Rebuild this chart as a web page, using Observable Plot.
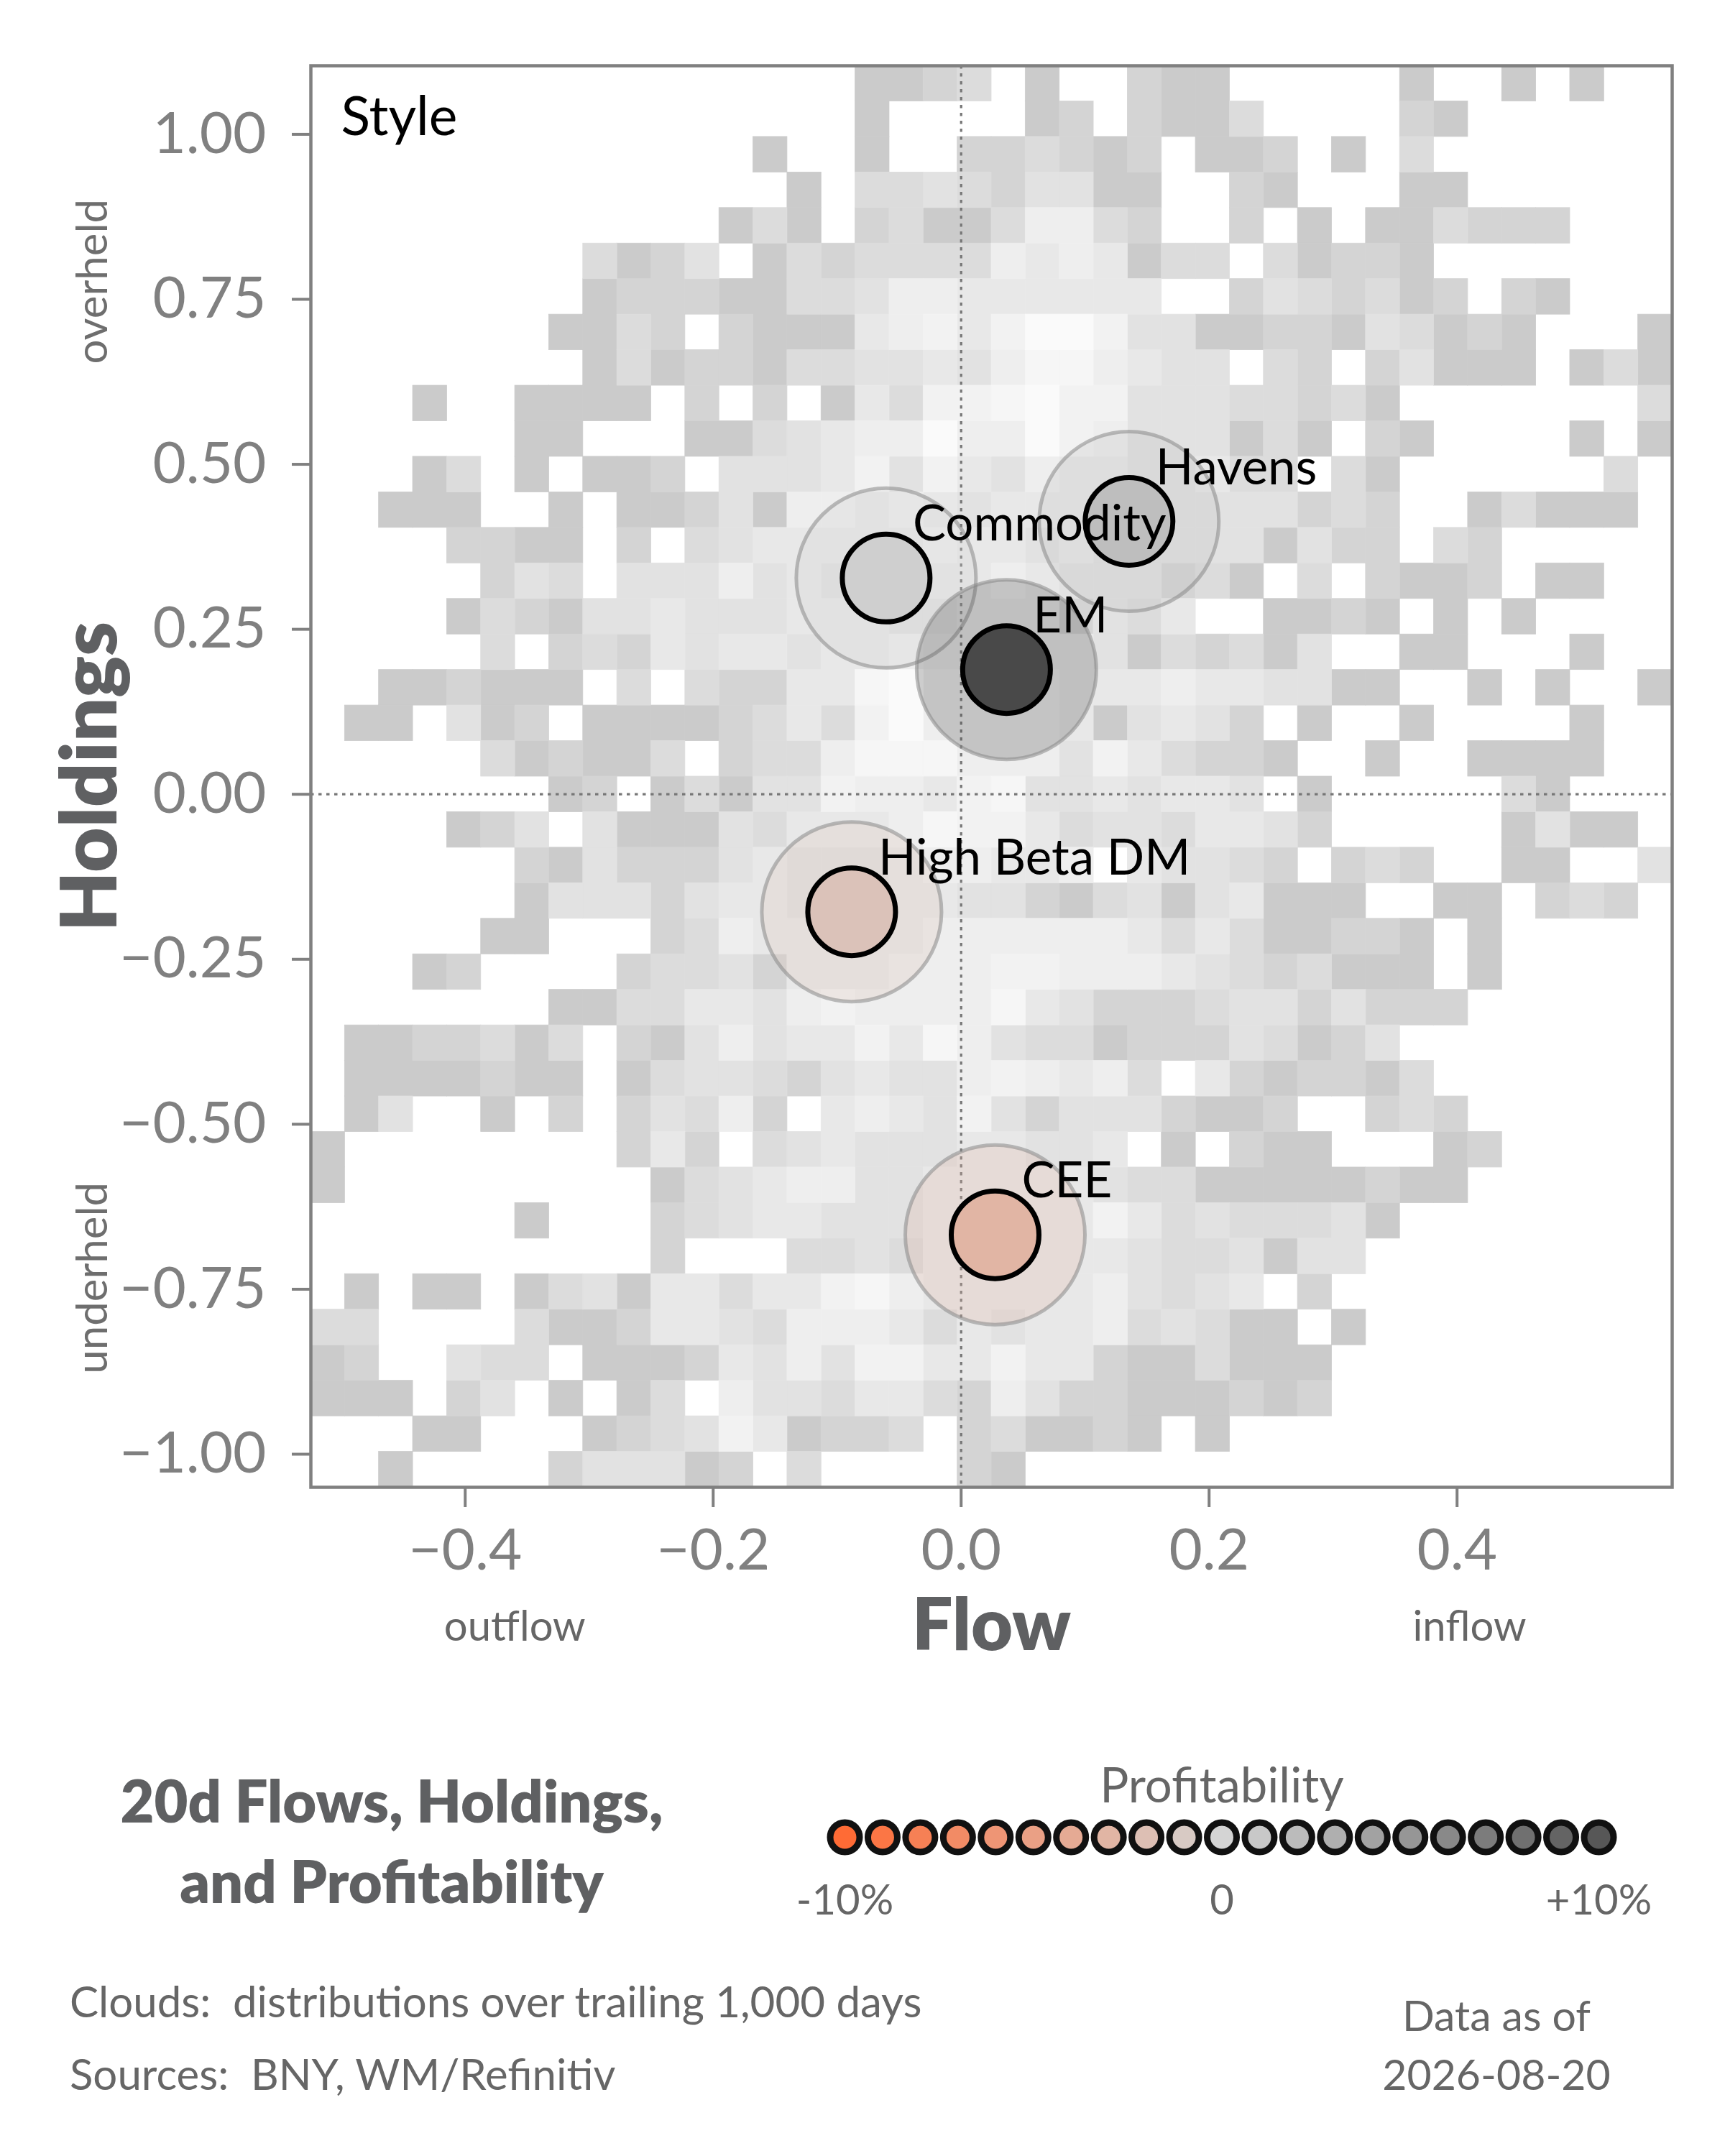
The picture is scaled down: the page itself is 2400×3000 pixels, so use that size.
<!DOCTYPE html>
<html>
<head>
<meta charset="utf-8">
<script src="https://cdn.jsdelivr.net/npm/d3@7"></script>
<script src="https://cdn.jsdelivr.net/npm/@observablehq/plot@0.6"></script>
<style>
html, body { margin: 0; padding: 0; background: #ffffff; }
#page { position: relative; width: 2400px; height: 3000px; background: #ffffff; overflow: hidden; font-family: Lato, "Noto Sans", sans-serif; }
.layer { position: absolute; left: 0; }
</style>
</head>
<body>
<div id="page">
  <div id="main" class="layer" style="top:0px"></div>
  <div id="legend" class="layer" style="top:2440px"></div>
</div>
<script>
// ---------- data ----------
// 2D distribution cloud (trailing 1,000 days), 40 flow bins x 40 holdings bins,
// rows listed from the top (high holdings) to the bottom; digit = shade level (0 = empty)
const cloudRows = [
  "0000000000000000112301002110000010010100",
  "0000000000000000100001202113000021000000",
  "0000000000000100100223212011201030000000",
  "0000000000000010334324411002100011000000",
  "0000000000001310231136632002010113222000",
  "0000000031240132333365651330312210000000",
  "0000000012221133466555555002432312021000",
  "0000000113202111567579974411221431210001",
  "0000000013122133445468865440320241110131",
  "0001001111020201537789774443323100000003",
  "0000001100011345669669764441310210000101",
  "0001301011204445747546554453303100000030",
  "0011100101124166565455544444423200131110",
  "0000221102034555556554544444142203200000",
  "0000024304446454555565444231030211201100",
  "0000132144544455544555243500112101010000",
  "0000030232545545565555541323140011000100",
  "0011211103032255896666555655441100101001",
  "0110412011112353796666514542010010000100",
  "0000031211302336888666475322100100111100",
  "0000000120131447665784454554010000031000",
  "0000124041114355568775344355420000014110",
  "0000002142224544456655605443202320011004",
  "0000001444245544455442134145111001102320",
  "0000011000236555556666665353112210100000",
  "0001200002334255566677666543231110100000",
  "0000000113355467666685422234424222000000",
  "0112231302146455758643312224312400000000",
  "0111121101344324544676563052122130000000",
  "0140010202436205654742444211200232000000",
  "1000000002520345444554450102110001200000",
  "1000000000134566445555543311111211000000",
  "0000001000234554445555575343334100000000",
  "0000000000200033435555554334144000000000",
  "0101101341553557865555564345020000000000",
  "3300003112554366653545563431101000000000",
  "1200433011125464775575521131110000000000",
  "1110240101306443553264221112120000000000",
  "0001100012347512230231121010000000000000",
  "0010000244412030000210000000000000000000"
];
const cloudShades = ["#cbcbcb", "#d4d4d4", "#dcdcdc", "#e2e2e2", "#e8e8e8", "#eeeeee", "#f2f2f2", "#f6f6f6", "#fafafa"];
const flowDomain = [-0.5245, 0.5735];
const holdingsDomain = [-1.0501, 1.1039];
const flowBinStart = -0.5245;
const flowBinWidth = 0.02745;
const holdingsBinTop = 1.1039;
const holdingsBinHeight = 0.05385;

const assetNames = ["Havens", "Commodity", "EM", "High Beta DM", "CEE"];
const assetFlow = [0.1354, -0.0605, 0.0366, -0.0883, 0.0274];
const assetHoldings = [0.4135, 0.3277, 0.189, -0.178, -0.6675];
const assetProfit = [0.018, 0.004, 0.111, -0.017, -0.03];

const xTicks = [-0.4, -0.2, 0, 0.2, 0.4];
const yTicks = [-1, -0.75, -0.5, -0.25, 0, 0.25, 0.5, 0.75, 1];
const flowSideLabels = ["outflow", "inflow"];
const flowSidePositions = [-0.36, 0.41];
const holdingsSideLabels = ["overheld", "underheld"];
const holdingsSidePositions = [0.777, -0.733];

const legendValues = [-0.10, -0.09, -0.08, -0.07, -0.06, -0.05, -0.04, -0.03, -0.02, -0.01, 0,
                      0.01, 0.02, 0.03, 0.04, 0.05, 0.06, 0.07, 0.08, 0.09, 0.10];
const legendTicks = [-0.1, 0, 0.1];
const legendTickLabels = ["-10%", "0", "+10%"];
const profitColors = ["#ff6b35", "#d4d4d4", "#575757"];

const titleLines = ["20d Flows, Holdings,", "and Profitability"];
const noteLines = ["Clouds:  distributions over trailing 1,000 days", "Sources:  BNY, WM/Refinitiv"];
const dateLines = ["Data as of", "2026-08-20"];

// ---------- derived tables ----------
const cells = [];
cloudRows.forEach((row, r) => {
  for (let c = 0; c < 40; c++) {
    const level = +(row[c] || "0");
    if (level > 0) {
      cells.push({
        level,
        x1: flowBinStart + c * flowBinWidth,
        x2: flowBinStart + (c + 1) * flowBinWidth,
        y1: holdingsBinTop - (r + 1) * holdingsBinHeight,
        y2: holdingsBinTop - r * holdingsBinHeight
      });
    }
  }
});
const assets = assetNames.map((name, i) => ({name, flow: assetFlow[i], holdings: assetHoldings[i], profit: assetProfit[i]}));

const minus = (v, digits) => (v < 0 ? "\u2212" : "") + Math.abs(v).toFixed(digits);
const colorScale = {type: "linear", domain: [-0.1, 0, 0.1], range: profitColors};
const FONT = "Lato, 'Noto Sans', sans-serif";

// ---------- main chart ----------
const main = Plot.plot({
  width: 2400,
  height: 2340,
  marginLeft: 432,
  marginRight: 74,
  marginTop: 91,
  marginBottom: 271,
  style: {fontFamily: FONT, background: "transparent", overflow: "visible"},
  x: {domain: flowDomain, label: null},
  y: {domain: holdingsDomain, label: null},
  color: colorScale,
  marks: [
    ...cloudShades.map((shade, k) =>
      Plot.rect(cells.filter(d => d.level === k + 1), {
        x1: "x1", x2: "x2", y1: "y1", y2: "y2",
        fill: shade, stroke: shade, strokeWidth: 0.8
      })
    ),
    Plot.ruleX([0], {stroke: "#777777", strokeWidth: 3.2, strokeDasharray: "4.5,6.5"}),
    Plot.ruleY([0], {stroke: "#777777", strokeWidth: 3.2, strokeDasharray: "4.5,6.5"}),
    Plot.frame({stroke: "#808080", strokeWidth: 4.5}),
    Plot.axisX({ticks: xTicks, tickFormat: d => minus(d, 1), tickSize: 28, tickPadding: 30,
                fontSize: 80, color: "#808080", strokeWidth: 4, label: null}),
    Plot.axisY({ticks: yTicks, tickFormat: d => minus(d, 2), tickSize: 26, tickPadding: 36,
                fontSize: 80, color: "#808080", strokeWidth: 4, label: null}),
    Plot.dot(assets, {x: "flow", y: "holdings", r: 125, fill: "profit", fillOpacity: 0.25,
                      stroke: "#888888", strokeOpacity: 0.55, strokeWidth: 5}),
    Plot.dot(assets, {x: "flow", y: "holdings", r: 61, fill: "profit", stroke: "#000000", strokeWidth: 7}),
    Plot.text(assets, {x: "flow", y: "holdings", text: "name", dx: 37, dy: -74, textAnchor: "start",
                       lineAnchor: "middle", fontSize: 69, fill: "#000000"}),
    Plot.text(["Style"], {frameAnchor: "top-left", dx: 42, dy: 72, textAnchor: "start", lineAnchor: "middle",
                          fontSize: 75, fill: "#000000"}),
    Plot.text(["Flow"], {frameAnchor: "bottom", dy: 194, textAnchor: "middle", lineAnchor: "middle",
                         fontSize: 100, fontWeight: 800, fill: "#5f6062"}),
    Plot.text(["Holdings"], {frameAnchor: "left", dx: -305, rotate: -90, textAnchor: "middle", lineAnchor: "middle",
                             fontSize: 108, fontWeight: 800, fill: "#5f6062"}),
    Plot.text(flowSideLabels, {x: (d, i) => flowSidePositions[i], frameAnchor: "bottom", dy: 195,
                               textAnchor: "middle", lineAnchor: "middle", fontSize: 58, fill: "#666666"}),
    Plot.text(holdingsSideLabels, {y: (d, i) => holdingsSidePositions[i], frameAnchor: "left", dx: -303,
                                   rotate: -90, textAnchor: "middle", lineAnchor: "middle",
                                   fontSize: 60, fill: "#6e6e6e"})
  ]
});
document.getElementById("main").appendChild(main);

// ---------- legend ----------
const legend = Plot.plot({
  width: 2400,
  height: 300,
  marginLeft: 1175,
  marginRight: 176,
  marginTop: 0,
  marginBottom: 68,
  style: {fontFamily: FONT, background: "transparent", overflow: "visible"},
  x: {domain: [-0.1, 0.1], axis: null},
  color: colorScale,
  marks: [
    Plot.dot(legendValues, {x: d => d, fill: d => d, r: 20.5, stroke: "#111111", strokeWidth: 9, frameAnchor: "middle"}),
    Plot.text(["Profitability"], {x: [0], frameAnchor: "top", dy: 46, textAnchor: "middle", lineAnchor: "middle",
                                  fontSize: 67, fill: "#666666"}),
    Plot.text(legendTickLabels, {x: (d, i) => legendTicks[i], frameAnchor: "top", dy: 205,
                                 textAnchor: "middle", lineAnchor: "middle", fontSize: 58, fill: "#666666"})
  ]
});
document.getElementById("legend").appendChild(legend);

// ---------- title and notes ----------
const overlay = d3.select("#page").append("svg")
  .attr("width", 2400).attr("height", 3000)
  .style("position", "absolute").style("left", "0px").style("top", "0px")
  .style("pointer-events", "none")
  .style("font-family", FONT);

overlay.selectAll("text.title").data(titleLines).join("text")
  .attr("class", "title")
  .attr("x", 545).attr("y", (d, i) => 2536 + i * 112)
  .attr("text-anchor", "middle")
  .attr("font-size", 81).attr("font-weight", 800).attr("fill", "#5f6062")
  .text(d => d);

overlay.selectAll("text.note").data(noteLines).join("text")
  .attr("class", "note")
  .attr("x", 97).attr("y", (d, i) => 2807 + i * 101)
  .attr("text-anchor", "start")
  .attr("font-size", 60).attr("fill", "#666666")
  .style("white-space", "pre")
  .text(d => d);

overlay.selectAll("text.date").data(dateLines).join("text")
  .attr("class", "date")
  .attr("x", 2082).attr("y", (d, i) => 2826 + i * 82)
  .attr("text-anchor", "middle")
  .attr("font-size", 59).attr("fill", "#666666")
  .text(d => d);
</script>
</body>
</html>
